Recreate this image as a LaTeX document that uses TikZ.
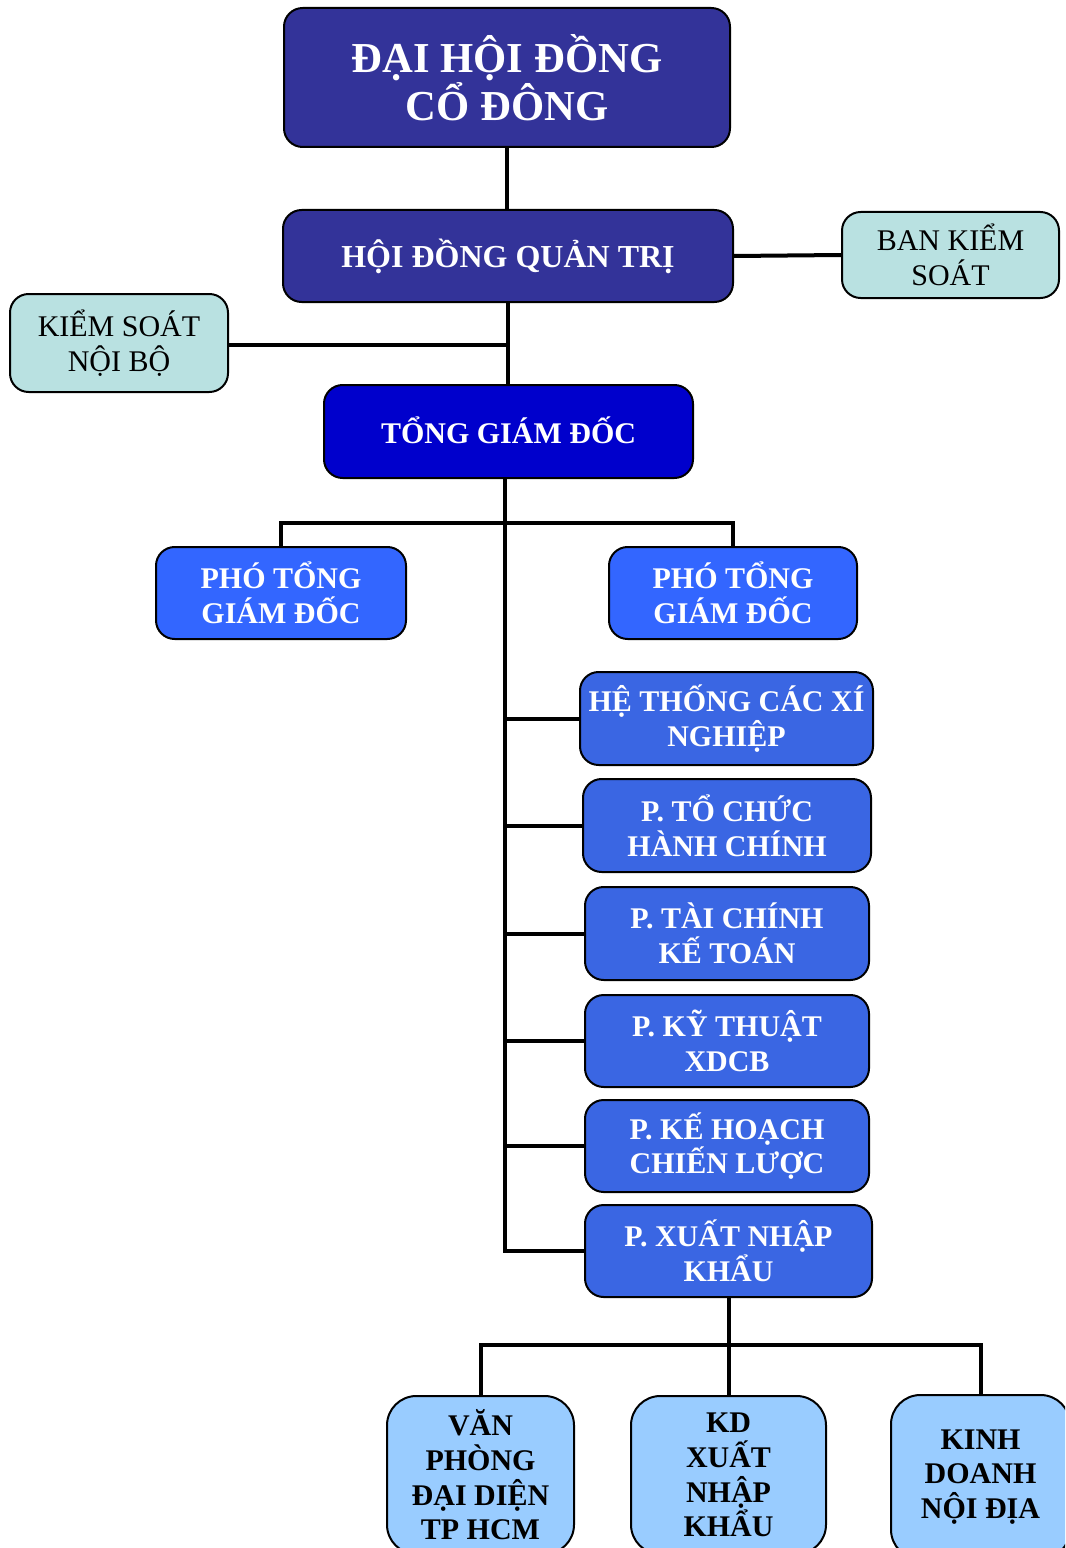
\documentclass[tikz,border=0pt]{standalone}
\usepackage{fontspec}
\setmainfont{Liberation Serif}
\definecolor{navy}{HTML}{333399}
\definecolor{tgdblue}{HTML}{0000CC}
\definecolor{pblue}{HTML}{3366FF}
\definecolor{dblue}{HTML}{3A66E3}
\definecolor{lteal}{HTML}{B9E1E1}
\definecolor{lblue}{HTML}{99CCFF}
\begin{document}
\begin{tikzpicture}[x=0.75pt,y=-0.75pt,
  box/.style={draw=black, line width=1.5pt, rounded corners=14pt, align=center,
    inner sep=0pt, text=white, font=\bfseries\fontsize{22.5}{26}\selectfont},
  sidebox/.style={box, fill=lteal, text=black, font=\fontsize{22.5}{26}\selectfont},
  botbox/.style={box, fill=lblue, text=black, rounded corners=22pt},
  conn/.style={line width=3pt}]
\useasboundingbox (0,0) rectangle (1065,1548);
\clip (0,0) rectangle (1065,1548);

\node[box, fill=navy, minimum width=334.5pt, minimum height=104.25pt,
  font=\bfseries\fontsize{32}{36}\selectfont] (dhdcd) at (507,77.5) {\raisebox{-2pt}{ĐẠI HỘI ĐỒNG}\\\raisebox{-2pt}{CỔ ĐÔNG}};
\node[box, fill=navy, minimum width=337.5pt, minimum height=69pt,
  font=\bfseries\fontsize{24}{28}\selectfont] (hdqt) at (508,256) {HỘI ĐỒNG QUẢN TRỊ};
\node[sidebox, minimum width=162.75pt, minimum height=64.5pt] (bks) at (950.5,255) {\raisebox{-2pt}{BAN KIỂM}\\\raisebox{-2pt}{SOÁT}};
\node[sidebox, minimum width=163.5pt, minimum height=73.5pt] (ksnb) at (119,343) {KIỂM SOÁT\\NỘI BỘ};
\node[box, fill=tgdblue, minimum width=276.75pt, minimum height=69.75pt] (tgd) at (508.5,431.5) {\raisebox{2pt}{TỔNG GIÁM ĐỐC}};
\node[box, fill=pblue, minimum width=187.5pt, minimum height=69pt] (ptgd1) at (281,593) {PHÓ TỔNG\\GIÁM ĐỐC};
\node[box, fill=pblue, minimum width=186pt, minimum height=69pt] (ptgd2) at (733,593) {PHÓ TỔNG\\GIÁM ĐỐC};
\node[box, fill=dblue, minimum width=219.75pt, minimum height=69.75pt] (htxn) at (726.5,718.5) {HỆ THỐNG CÁC XÍ\\NGHIỆP};
\node[box, fill=dblue, minimum width=216pt, minimum height=69.75pt] (tchc) at (727,825.5) {P. TỔ CHỨC\\HÀNH CHÍNH};
\node[box, fill=dblue, minimum width=213pt, minimum height=69.75pt] (tckt) at (727,933.5) {P. TÀI CHÍNH\\KẾ TOÁN};
\node[box, fill=dblue, minimum width=213pt, minimum height=69pt] (ktxd) at (727,1041) {P. KỸ THUẬT\\XDCB};
\node[box, fill=dblue, minimum width=213pt, minimum height=69pt] (khcl) at (727,1146) {P. KẾ HOẠCH\\CHIẾN LƯỢC};
\node[box, fill=dblue, minimum width=215.25pt, minimum height=69pt] (xnk) at (728.5,1251) {P. XUẤT NHẬP\\KHẨU};
\node[botbox, minimum width=140.25pt, minimum height=118.5pt] (vp) at (480.5,1475) {VĂN\\PHÒNG\\ĐẠI DIỆN\\TP HCM};
\node[botbox, minimum width=146.25pt, minimum height=118.5pt] (kd) at (728.5,1475) {KD\\XUẤT\\NHẬP\\KHẨU};
\node[botbox, minimum width=134.25pt, minimum height=123pt] (kdnd) at (980.5,1477) {\raisebox{-3pt}{KINH}\\\raisebox{-3pt}{DOANH}\\\raisebox{-3pt}{NỘI ĐỊA}};

\coordinate (s0) at (505,478);
\coordinate (s1) at (505,523);
\coordinate (b1) at (729,1345);

\draw[conn] (dhdcd.south) -- (dhdcd.south |- hdqt.north);
\draw[conn] (hdqt.east) -- (bks.west);
\draw[conn] (hdqt.south) -- (hdqt.south |- tgd.north);
\draw[conn] (ksnb.east |- 0,345) -- (hdqt.south |- 0,345);
\draw[conn] (ptgd1.north) |- (s1) -| (ptgd2.north);
\draw[conn] (s0 |- htxn.west) -- (htxn.west);
\draw[conn] (s0 |- tchc.west) -- (tchc.west);
\draw[conn] (s0 |- tckt.west) -- (tckt.west);
\draw[conn] (s0 |- ktxd.west) -- (ktxd.west);
\draw[conn] (s0 |- khcl.west) -- (khcl.west);
\draw[conn] (s0) -- (s0 |- xnk.west) -- (xnk.west);
\draw[conn] (xnk.south) -- (kd.north);
\draw[conn] (vp.north) |- (b1) -| (kdnd.north);
\end{tikzpicture}
\end{document}
